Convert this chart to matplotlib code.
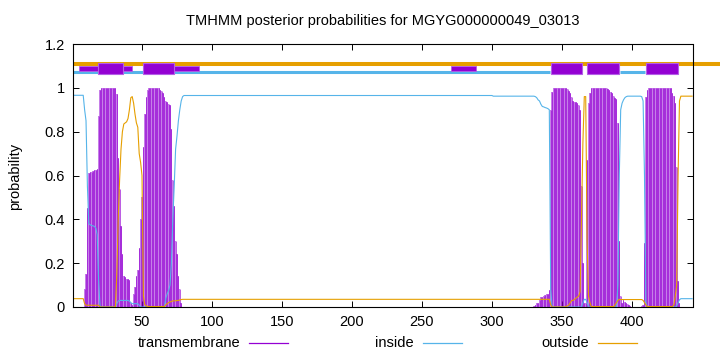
import numpy as np
import matplotlib
matplotlib.use('Agg')
import matplotlib.pyplot as plt
from matplotlib.patches import Rectangle
from matplotlib.lines import Line2D

# posterior probabilities per residue
tm = ([0.0] * 8
      + [0.08, 0.15, 0.45, 0.61, 0.615, 0.615, 0.62, 0.625, 0.627, 0.63, 0.87, 0.99]
      + [1.0] * 11
      + [0.97, 0.68, 0.54, 0.37, 0.24, 0.14, 0.135, 0.13, 0.13, 0.125, 0.02, 0.01,
         0.06, 0.09, 0.14, 0.17, 0.27, 0.4, 0.5, 0.73, 0.88, 0.96, 0.99]
      + [1.0] * 8
      + [0.99, 0.985, 0.975, 0.96, 0.94, 0.935, 0.925, 0.92, 0.81, 0.58, 0.46, 0.3,
         0.24, 0.14, 0.08, 0.02]
      + [0.0] * 251
      + [0.005, 0.01, 0.02, 0.02, 0.03, 0.045, 0.045, 0.05, 0.053, 0.06, 0.06, 0.076]
      + [0.9, 0.98]
      + [1.0] * 10
      + [0.995, 0.985, 0.975, 0.96, 0.94, 0.937, 0.935, 0.93, 0.92, 0.9, 0.55, 0.2,
         0.02, 0.02]
      + [0.67, 0.93, 0.975]
      + [1.0] * 12
      + [0.995, 0.99, 0.98, 0.975, 0.965, 0.955, 0.95, 0.84, 0.3, 0.05]
      + [0.02, 0.03, 0.025, 0.02, 0.015, 0.01, 0.005, 0.0, 0.0, 0.0, 0.0, 0.0, 0.0,
         0.0, 0.005, 0.01]
      + [0.29, 0.96, 0.99]
      + [1.0] * 17
      + [0.975, 0.965, 0.93, 0.64, 0.12, 0.02]
      + [0.0] * 9)

inside = ([0.966] * 8
          + [0.9, 0.85, 0.55, 0.38, 0.375, 0.372, 0.37, 0.368, 0.36, 0.33, 0.12, 0.005]
          + [0.0] * 11
          + [0.015, 0.027, 0.03, 0.03, 0.03, 0.03, 0.03, 0.03, 0.03, 0.027, 0.02,
             0.015, 0.015, 0.015, 0.015, 0.015, 0.008]
          + [0.0] * 18
          + [0.04, 0.06, 0.075, 0.1, 0.2, 0.4, 0.55, 0.72, 0.78, 0.85, 0.9, 0.94]
          + [0.96]
          + [0.965] * 221
          + [0.962] * 29
          + [0.962, 0.96, 0.955, 0.945, 0.94, 0.925, 0.915, 0.913, 0.91, 0.908, 0.905, 0.9]
          + [0.08, 0.0]
          + [0.0] * 21
          + [0.02, 0.035, 0.035, 0.02, 0.0]
          + [0.0] * 20
          + [0.1, 0.6, 0.9, 0.93, 0.945, 0.955, 0.96]
          + [0.962] * 10
          + [0.96, 0.94, 0.6, 0.02, 0.0]
          + [0.0] * 20
          + [0.005, 0.02, 0.033]
          + [0.038] * 9)

outside = ([0.038] * 8
           + [0.015]
           + [0.008] * 10
           + [0.0] * 12
           + [0.15, 0.4, 0.58, 0.72, 0.8, 0.835, 0.84, 0.845, 0.86, 0.9, 0.955, 0.96,
              0.93, 0.88, 0.84, 0.82, 0.7, 0.66, 0.6, 0.05, 0.01, 0.005, 0.003]
           + [0.002] * 12
           + [0.01, 0.015, 0.02, 0.023, 0.025, 0.028, 0.028, 0.028, 0.03, 0.03, 0.032, 0.034]
           + [0.035] * 263
           + [0.01]
           + [0.0] * 10
           + [0.003, 0.005, 0.01, 0.02, 0.03, 0.03, 0.035, 0.04, 0.045, 0.05, 0.07]
           + [0.4, 0.75, 0.96, 0.96, 0.3, 0.05, 0.02]
           + [0.002] * 17
           + [0.01, 0.02, 0.03, 0.035]
           + [0.034] * 16
           + [0.03, 0.02, 0.01]
           + [0.002] * 19
           + [0.01, 0.05, 0.1, 0.6, 0.94]
           + [0.962] * 9)

# predicted topology shown above the curves (residue ranges)
tm_helices = [(18.6, 36.4), (50.7, 72.9), (342, 364.5), (368, 390.7), (410, 432.6)]
tm_weak = [(5, 43), (72.9, 90.7), (270.5, 288.4)]
inside_spans = [(1, 341.5), (391.4, 409.5)]
outside_spans = [(0.9, 463)]

title = 'TMHMM posterior probabilities for MGYG000000049_03013'

PURPLE = '#9400D3'
BLUE = '#56B4E9'
ORANGE = '#E69F00'

plt.rcParams['font.family'] = ['Liberation Sans', 'DejaVu Sans']
plt.rcParams['font.size'] = 10.5

fig = plt.figure(figsize=(7.2, 3.52), dpi=100)
ax = fig.add_axes([73 / 720, 1 - 307 / 352, 619.5 / 720, 263 / 352])

x_tm = np.arange(1, len(tm) + 1)
x_in = np.arange(1, len(inside) + 1)
x_out = np.arange(1, len(outside) + 1)

# transmembrane as impulses over a light fill
ax.bar(x_tm, tm, width=1.0, color='#c67ee8', linewidth=0, zorder=1)
ax.vlines(x_tm, 0, tm, color=PURPLE, lw=0.6, alpha=0.75, zorder=2)
ax.plot(x_in, inside, color=BLUE, lw=0.8, zorder=3)
ax.plot(x_out, outside, color=ORANGE, lw=0.8, zorder=3)

# topology bar
for a, b in outside_spans:
    ax.plot([a, b], [1.11, 1.11], color=ORANGE, lw=2.9, clip_on=False,
            solid_capstyle='butt', zorder=3)
for a, b in inside_spans:
    ax.plot([a, b], [1.072, 1.072], color=BLUE, lw=2.2, solid_capstyle='butt', zorder=3)
for a, b in tm_weak:
    ax.add_patch(Rectangle((a, 1.078), b - a, 0.021, facecolor=PURPLE,
                           edgecolor='#b45ee6', lw=0.6, zorder=4))
for a, b in tm_helices:
    ax.add_patch(Rectangle((a, 1.064), b - a, 0.05, facecolor=PURPLE,
                           edgecolor='#b45ee6', lw=0.8, zorder=5))

ax.set_xlim(0.7, 443.3)
ax.set_ylim(0, 1.2)
ax.set_xticks(np.arange(50, 401, 50))
ax.set_yticks([0, 0.2, 0.4, 0.6, 0.8, 1.0, 1.2])
ax.set_yticklabels(['0', '0.2', '0.4', '0.6', '0.8', '1', '1.2'])
ax.tick_params(direction='in', length=4, width=0.7, top=True, right=True,
               pad=6, colors='black')
for s in ax.spines.values():
    s.set_linewidth(0.8)
    s.set_zorder(6)

fig.text(382.5 / 720, 1 - 21 / 352, title, ha='center', va='center')
fig.text(15 / 720, 1 - 176 / 352, 'probability', rotation=90, ha='center', va='center')

# legend row beneath the axis
legend_items = [('transmembrane', PURPLE, 240), ('inside', BLUE, 414), ('outside', ORANGE, 589)]
for label, col, right in legend_items:
    fig.text(right / 720, 1 - 343 / 352, label, ha='right', va='center')
    fig.add_artist(Line2D([(right + 9) / 720, (right + 48) / 720],
                          [1 - 343 / 352, 1 - 343 / 352], color=col, lw=0.9))

fig.savefig('out.png', dpi=100)
